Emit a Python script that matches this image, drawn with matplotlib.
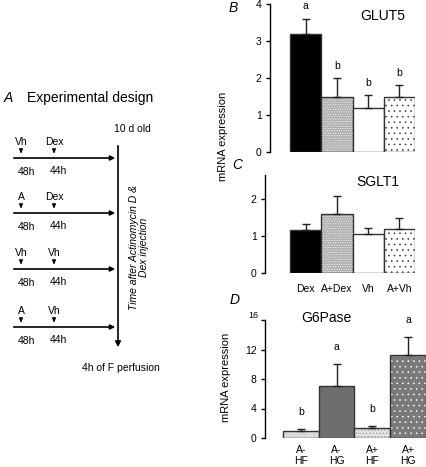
import matplotlib
matplotlib.use("Agg")
import matplotlib.pyplot as plt

plt.rcParams['font.family'] = ['Liberation Sans', 'DejaVu Sans']
plt.rcParams['hatch.linewidth'] = 0.4

# panel B / C data
groups_bc = ['Dex', 'A+Dex', 'Vh', 'A+Vh']
glut5 = [3.2, 1.5, 1.2, 1.5]
glut5_err = [0.4, 0.5, 0.33, 0.3]
glut5_sig = ['a', 'b', 'b', 'b']
sglt1 = [1.15, 1.6, 1.05, 1.2]
sglt1_err = [0.18, 0.47, 0.18, 0.28]

# panel D data
groups_d = ['A-\nHF', 'A-\nHG', 'A+\nHF', 'A+\nHG']
g6pase = [1.0, 7.1, 1.3, 11.3]
g6pase_err = [0.2, 2.9, 0.3, 2.4]
g6pase_sig = ['b', 'a', 'b', 'a']

# panel A rows: (first injection, second injection)
design_rows = [('Vh', 'Dex'), ('A', 'Dex'), ('Vh', 'Vh'), ('A', 'Vh')]

W, H = 427, 467
fig = plt.figure(figsize=(W / 100, H / 100), dpi=100)


def px_axes(x0, y0, x1, y1):
    # pixel box (top-left origin) -> figure axes
    return fig.add_axes([x0 / W, 1 - y1 / H, (x1 - x0) / W, (y1 - y0) / H])


# bar styles: (face, hatch, hatch colour)
styles_bc = [('black', None, None), ('#b0b0b0', '.......', 'white'),
             ('white', None, None), ('white', '...', '#333333')]
styles_d = [('#d9d9d9', None, None), ('#6e6e6e', None, None),
            ('#e3e3e3', '.....', '#888888'), ('#7a7a7a', '...', 'white')]


def bar_panel(ax, vals, errs, styles, xmin):
    x = list(range(len(vals)))
    for i, (v, (fc, hatch, hc)) in enumerate(zip(vals, styles)):
        if hatch:
            ax.bar(i, v, width=1.0, color=fc, edgecolor=hc, hatch=hatch, lw=0)
            ax.bar(i, v, width=1.0, fill=False, edgecolor='#333333', lw=1)
        else:
            ax.bar(i, v, width=1.0, color=fc, edgecolor='#333333', lw=1)
    ax.errorbar(x, vals, yerr=[[0] * len(vals), errs], fmt='none',
                ecolor='#222222', elinewidth=1, capsize=3, capthick=1)
    ax.set_xlim(xmin, 3.5)
    for s in ['top', 'right', 'bottom']:
        ax.spines[s].set_visible(False)
    ax.spines['left'].set_linewidth(1)
    ax.set_xticks([])
    ax.tick_params(axis='y', labelsize=7.5, length=3, width=1, pad=3)
    ax.patch.set_alpha(0)


# ---- panel B
axB = px_axes(270, 4, 415, 152)
bar_panel(axB, glut5, glut5_err, styles_bc, -1.14)
axB.set_ylim(0, 4)
axB.set_yticks([0, 1, 2, 3, 4])
for i, (v, e, s) in enumerate(zip(glut5, glut5_err, glut5_sig)):
    axB.text(i, v + e + 0.2, s, ha='center', va='bottom', fontsize=7.5)
axB.text(0.78, 0.92, 'GLUT5', transform=axB.transAxes, ha='center', va='center', fontsize=10)

# ---- panel C
axC = px_axes(265, 175, 415, 273)
bar_panel(axC, sglt1, sglt1_err, styles_bc, -1.3)
axC.set_ylim(0, 2.65)
axC.set_yticks([0, 1, 2])
axC.text(0.75, 0.93, 'SGLT1', transform=axC.transAxes, ha='center', va='center', fontsize=10)
for i, g in enumerate(groups_bc):
    axC.text(i, -0.43, g, ha='center', va='center', fontsize=7.5)

fig.text(223 / W, 1 - 136 / H, 'mRNA expression', rotation=90, ha='center', va='center', fontsize=8)
fig.text(233 / W, 1 - 8 / H, 'B', style='italic', fontsize=10, ha='center', va='center')
fig.text(237 / W, 1 - 165 / H, 'C', style='italic', fontsize=10, ha='center', va='center')
fig.text(235 / W, 1 - 300 / H, 'D', style='italic', fontsize=10, ha='center', va='center')

# ---- panel D
axD = px_axes(265, 320, 426, 438)
bar_panel(axD, g6pase, g6pase_err, styles_d, -1.0)
axD.set_ylim(0, 16)
axD.set_yticks([0, 4, 8, 12, 16])
axD.set_yticklabels(['0', '4', '8', '12', ''])
axD.text(-0.04, 1.0, '16', transform=axD.transAxes, ha='right', va='bottom', fontsize=6.5)
for i, (v, e, s) in enumerate(zip(g6pase, g6pase_err, g6pase_sig)):
    axD.text(i, v + e + 1.6, s, ha='center', va='bottom', fontsize=7.5)
axD.text(0.38, 1.02, 'G6Pase', transform=axD.transAxes, ha='center', va='center', fontsize=10)
for i, g in enumerate(groups_d):
    axD.text(i, -1.0, g, ha='center', va='top', fontsize=7.5, linespacing=1.05)
fig.text(226 / W, 1 - 377 / H, 'mRNA expression', rotation=90, ha='center', va='center', fontsize=8)

# ---- panel A: experimental design
axA = fig.add_axes([0, 0, 1, 1])
axA.set_xlim(0, W)
axA.set_ylim(H, 0)
axA.axis('off')
axA.patch.set_alpha(0)

axA.text(4, 98, 'A', style='italic', fontsize=10, va='center')
axA.text(27, 98, 'Experimental design', fontsize=10, va='center')
axA.text(132, 129, '10 d old', fontsize=7.5, ha='center', va='center')

# vertical time line with arrow down
axA.annotate('', xy=(118, 350), xytext=(118, 143),
             arrowprops=dict(arrowstyle='-|>', lw=1.2, color='black', mutation_scale=8))
axA.text(121, 368, '4h of F perfusion', fontsize=7.5, ha='center', va='center')
axA.text(139, 247, 'Time after Actinomycin D &\nDex injection', rotation=90, style='italic',
         fontsize=7.5, ha='center', va='center', linespacing=1.1)

row_y = [158, 213, 269, 327]
for (first, second), y in zip(design_rows, row_y):
    axA.annotate('', xy=(118, y), xytext=(11, y),
                 arrowprops=dict(arrowstyle='-|>', lw=1.2, color='black', mutation_scale=7))
    for xa, lab in [(21, first), (54, second)]:
        axA.annotate('', xy=(xa, y - 2), xytext=(xa, y - 10),
                     arrowprops=dict(arrowstyle='-|>', lw=1, color='black', mutation_scale=5))
        axA.text(xa, y - 16, lab, fontsize=7.5, ha='center', va='center')
    axA.text(26, y + 14, '48h', fontsize=7.5, ha='center', va='center')
    axA.text(58, y + 13, '44h', fontsize=7.5, ha='center', va='center')

fig.savefig('out.png', dpi=100)
